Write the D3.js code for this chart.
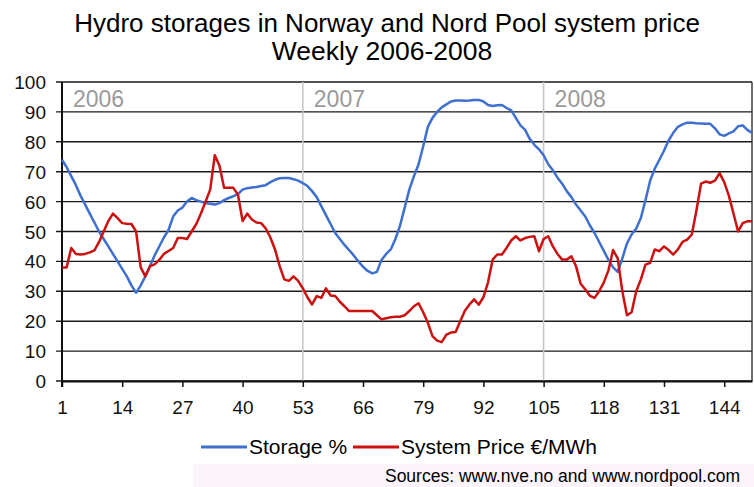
<!DOCTYPE html>
<html>
<head>
<meta charset="utf-8">
<script src="https://cdn.jsdelivr.net/npm/d3@7"></script>
<style>
  body { margin: 0; background: #fff; }
  svg { display: block; font-family: "Liberation Sans", Arial, sans-serif; }
</style>
</head>
<body>
<div id="chart"></div>
<script>
// weekly values, week 1 = first week of 2006
var storage = [
  74, 71.5, 68.5, 65.5, 62, 59, 56, 53, 50, 47.5,
  45, 42.5, 40, 37.5, 35, 32, 29.5, 32, 35, 38.5,
  42, 45, 48, 50.5, 55, 57, 58, 60, 61.2, 60.5,
  60, 59.5, 59.3, 59, 59.5, 60.5, 61.2, 61.8, 62.5, 64,
  64.5, 64.7, 64.9, 65.2, 65.5, 66.5, 67.3, 67.8, 67.9, 67.9,
  67.5, 67, 66.2, 65.2, 63.5, 61.5, 58.5, 55.5, 52.5, 49.5,
  47.5, 45.5, 43.8, 42, 40, 38.2, 36.8, 36, 36.5, 40.5,
  42.5, 44, 47.5, 52, 58, 64, 68.5, 72.5, 78.5, 85,
  88, 90, 91.5, 92.5, 93.5, 93.8, 93.8, 93.7, 93.8, 94,
  94, 93.5, 92.3, 92, 92.2, 92.3, 91.3, 90.5, 88, 85.5,
  84, 81, 79, 77.5, 75.5, 72.5, 70.5, 68, 66, 63.5,
  61.5, 59, 57, 55, 52, 49.5, 46.5, 43.5, 40.5, 38,
  36.5, 41, 46, 49, 51, 54.5, 60.5, 67, 71, 74,
  77, 80.5, 83, 85, 85.8, 86.4, 86.4, 86.2, 86.1, 86,
  86, 84.5, 82.5, 82, 82.8, 83.5, 85.2, 85.5, 84, 83
];
var price = [
  38, 38, 44.5, 42.5, 42.3, 42.5, 43, 43.7, 46.5, 50,
  53.5, 56, 54.5, 52.8, 52.6, 52.5, 50, 38, 35, 38.4,
  39, 40.5, 42.5, 43.5, 44.5, 47.8, 47.8, 47.5, 50, 52.5,
  56, 60, 64, 75.5, 72, 64.6, 64.6, 64.6, 62.3, 53.5,
  56, 54, 53, 52.8, 51, 48, 44, 38.4, 34, 33.5,
  35, 33.5, 31, 28, 25.6, 28.4, 27.8, 31, 28.6, 28.4,
  26.5, 25, 23.4, 23.4, 23.4, 23.4, 23.4, 23.4, 22, 20.6,
  21, 21.3, 21.5, 21.5, 22, 23.4, 25, 26, 23, 19.5,
  15, 13.5, 13, 15.5, 16.2, 16.4, 20, 23.5, 25.6, 27.3,
  25.5, 28, 33, 40.6, 42.3, 42.3, 44.5, 47, 48.4, 47,
  47.8, 48.2, 48.4, 43.4, 47.5, 48.4, 45, 42.5, 40.6, 40.6,
  41.7, 38.4, 32.5, 30.6, 28.5, 27.8, 30, 33, 37, 43.8,
  41, 30, 22, 23, 30, 34, 38.9, 39.5, 44, 43.4,
  45, 43.8, 42.3, 44, 46.5, 47.3, 49, 57, 66, 66.7,
  66.3, 67, 69.5, 66.5, 62, 56, 50, 52.8, 53.4, 53.4
];
var weekTicks = [1, 14, 27, 40, 53, 66, 79, 92, 105, 118, 131, 144];
var valueTicks = [0, 10, 20, 30, 40, 50, 60, 70, 80, 90, 100];
var yearStarts = [1, 53, 105];
var yearLabels = ["2006", "2007", "2008"];
var seriesNames = ["Storage %", "System Price €/MWh"];
var seriesColors = ["#3f6fcf", "#cc1111"];

var W = 754, H = 487;
var plotL = 62, plotR = 752, plotT = 82, plotB = 381;

var svg = d3.select("#chart").append("svg")
    .attr("width", W)
    .attr("height", H);

var x = d3.scaleLinear().domain([1, 150]).range([plotL, plotR]);
var y = d3.scaleLinear().domain([0, 100]).range([plotB, plotT]);

// title
svg.append("text")
    .attr("x", 387).attr("y", 32)
    .attr("text-anchor", "middle")
    .attr("font-size", 26)
    .text("Hydro storages in Norway and Nord Pool system price");
svg.append("text")
    .attr("x", 382).attr("y", 60)
    .attr("text-anchor", "middle")
    .attr("font-size", 26.5)
    .text("Weekly 2006-2008");

// horizontal grid, extends left as tick marks
svg.append("g")
    .selectAll("line")
    .data(valueTicks)
    .join("line")
    .attr("x1", plotL - 6).attr("x2", plotR)
    .attr("y1", function (d) { return y(d); })
    .attr("y2", function (d) { return y(d); })
    .attr("stroke", "#1a1a1a")
    .attr("stroke-width", 1.4);

// year separators
svg.append("g")
    .selectAll("line")
    .data(yearStarts.slice(1))
    .join("line")
    .attr("x1", function (d) { return x(d); })
    .attr("x2", function (d) { return x(d); })
    .attr("y1", plotT).attr("y2", plotB)
    .attr("stroke", "#c4c4c4")
    .attr("stroke-width", 1.5);

svg.append("g")
    .selectAll("text")
    .data(yearLabels)
    .join("text")
    .attr("x", function (d, i) { return x(yearStarts[i]) + 11; })
    .attr("y", 107)
    .attr("font-size", 23)
    .attr("fill", "#9a9a9a")
    .text(function (d) { return d; });

// right border
svg.append("line")
    .attr("x1", plotR).attr("x2", plotR)
    .attr("y1", plotT).attr("y2", plotB)
    .attr("stroke", "#333").attr("stroke-width", 1.4);

// y labels
svg.append("g")
    .selectAll("text")
    .data(valueTicks)
    .join("text")
    .attr("x", 46)
    .attr("y", function (d) { return y(d) + 7; })
    .attr("text-anchor", "end")
    .attr("font-size", 19)
    .attr("fill", "#111")
    .text(function (d) { return d; });

// x axis
var xAxis = d3.axisBottom(x)
    .tickValues(weekTicks)
    .tickSize(6)
    .tickSizeOuter(0)
    .tickPadding(14);
var gx = svg.append("g")
    .attr("transform", "translate(0," + plotB + ")")
    .call(xAxis);
gx.select(".domain").attr("stroke", "#111").attr("stroke-width", 2);
gx.selectAll(".tick line").attr("stroke", "#111").attr("stroke-width", 1.5);
gx.selectAll(".tick text")
    .attr("font-size", 19)
    .attr("font-family", "Liberation Sans, Arial, sans-serif")
    .attr("fill", "#111");

// y axis line
svg.append("line")
    .attr("x1", plotL).attr("x2", plotL)
    .attr("y1", plotT).attr("y2", plotB + 6)
    .attr("stroke", "#111").attr("stroke-width", 2);

// series
var line = d3.line()
    .x(function (d, i) { return x(i + 1); })
    .y(function (d) { return y(d); });

[storage, price].forEach(function (s, k) {
    svg.append("path")
        .datum(s)
        .attr("d", line)
        .attr("fill", "none")
        .attr("stroke", seriesColors[k])
        .attr("stroke-width", 2.5)
        .attr("stroke-linejoin", "round");
});

// legend
var legendX = [201, 353];
var leg = svg.append("g");
seriesNames.forEach(function (name, k) {
    leg.append("line")
        .attr("x1", legendX[k]).attr("x2", legendX[k] + 46)
        .attr("y1", 447).attr("y2", 447)
        .attr("stroke", seriesColors[k])
        .attr("stroke-width", 3);
    leg.append("text")
        .attr("x", legendX[k] + 48)
        .attr("y", 454)
        .attr("font-size", 21)
        .text(name);
});

// sources band
svg.append("rect")
    .attr("x", 193).attr("y", 464)
    .attr("width", W - 193).attr("height", H - 464)
    .attr("fill", "#fbf4fb");
svg.append("text")
    .attr("x", 740).attr("y", 482)
    .attr("text-anchor", "end")
    .attr("font-size", 17.5)
    .text("Sources: www.nve.no and www.nordpool.com");
</script>
</body>
</html>
